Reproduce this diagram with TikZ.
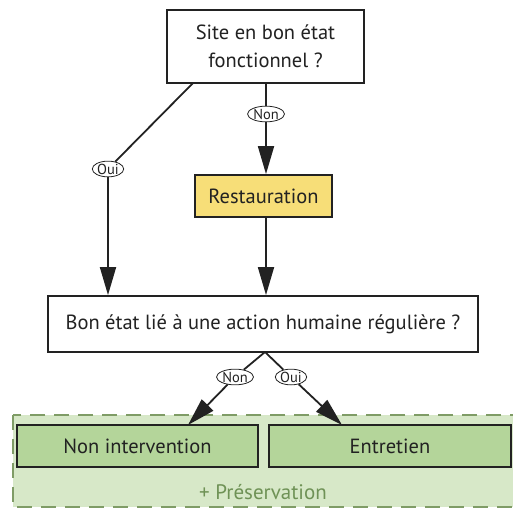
\documentclass[tikz,border=0pt]{standalone}
\usepackage{fontspec}
\setmainfont{PT Sans}
\usetikzlibrary{arrows.meta,shapes.geometric}
\definecolor{yel}{HTML}{F7DE78}
\definecolor{grn}{HTML}{B4D59A}
\definecolor{lgrn}{HTML}{D7E8C8}
\definecolor{dgrn}{HTML}{7F9C66}
\definecolor{tgrn}{HTML}{6F9256}
\definecolor{ink}{HTML}{222222}
\tikzset{
  box/.style={draw=ink, line width=1.8pt, rectangle, align=center, font=\fontsize{20.5}{28}\selectfont, text=ink, inner sep=0pt},
  lab/.style={draw=ink, line width=0.8pt, ellipse, fill=white, inner sep=0.3pt, font=\fontsize{14.5}{14.5}\selectfont, text=ink},
  conn/.style={draw=ink, line width=1.8pt},
  arr/.style={conn, -{Triangle[length=28pt,width=16pt]}},
}
\begin{document}
\begin{tikzpicture}[x=1pt,y=-1pt]
\useasboundingbox (0,0) rectangle (513,516);
\clip (0,0) rectangle (513,516);
% green region
\path[fill=lgrn, draw=dgrn, line width=1.8pt, dash pattern=on 15pt off 9pt] (13,415) rectangle (525,507);
\node[font=\fontsize{21}{25}\selectfont, text=tgrn] (pres) at (263,492) {+ Préservation};
% nodes
\node[box, fill=white, minimum width=197pt, minimum height=73pt] (top) at (265.5,46.5) {Site en bon état\\fonctionnel ?};
\node[box, fill=yel, minimum width=137pt, minimum height=42pt] (rest) at (263.5,196) {Restauration};
\node[box, fill=white, minimum width=430pt, minimum height=56pt] (mid) at (263,324) {Bon état lié à une action humaine régulière ?};
\node[box, fill=grn, minimum width=241pt, minimum height=42pt] (ni) at (137.5,446) {Non intervention};
\node[box, fill=grn, minimum width=242pt, minimum height=42pt] (ent) at (390,446) {Entretien};
% labels
\node[lab] (oui1) at (108,169) {Oui};
\node[lab] (non1) at (266,114) {Non};
\node[lab] (non2) at (235,377) {Non};
\node[lab] (oui2) at (291,377) {Oui};
% coordinates
\coordinate (tA) at (193,83);
\coordinate (mb) at (265,352);
\coordinate (niT) at (188,425);
\coordinate (entT) at (342,425);
% connectors
\draw[conn] (tA) -- (oui1);
\draw[arr] (oui1) -- (oui1 |- mid.north);
\draw[conn] (non1 |- top.south) -- (non1);
\draw[arr] (non1) -- (non1 |- rest.north);
\draw[arr] (rest.south -| non1) -- (non1 |- mid.north);
\draw[conn] (mb) -- (non2);
\draw[arr] (non2) -- (niT);
\draw[conn] (mb) -- (oui2);
\draw[arr] (oui2) -- (entT);
\end{tikzpicture}
\end{document}
